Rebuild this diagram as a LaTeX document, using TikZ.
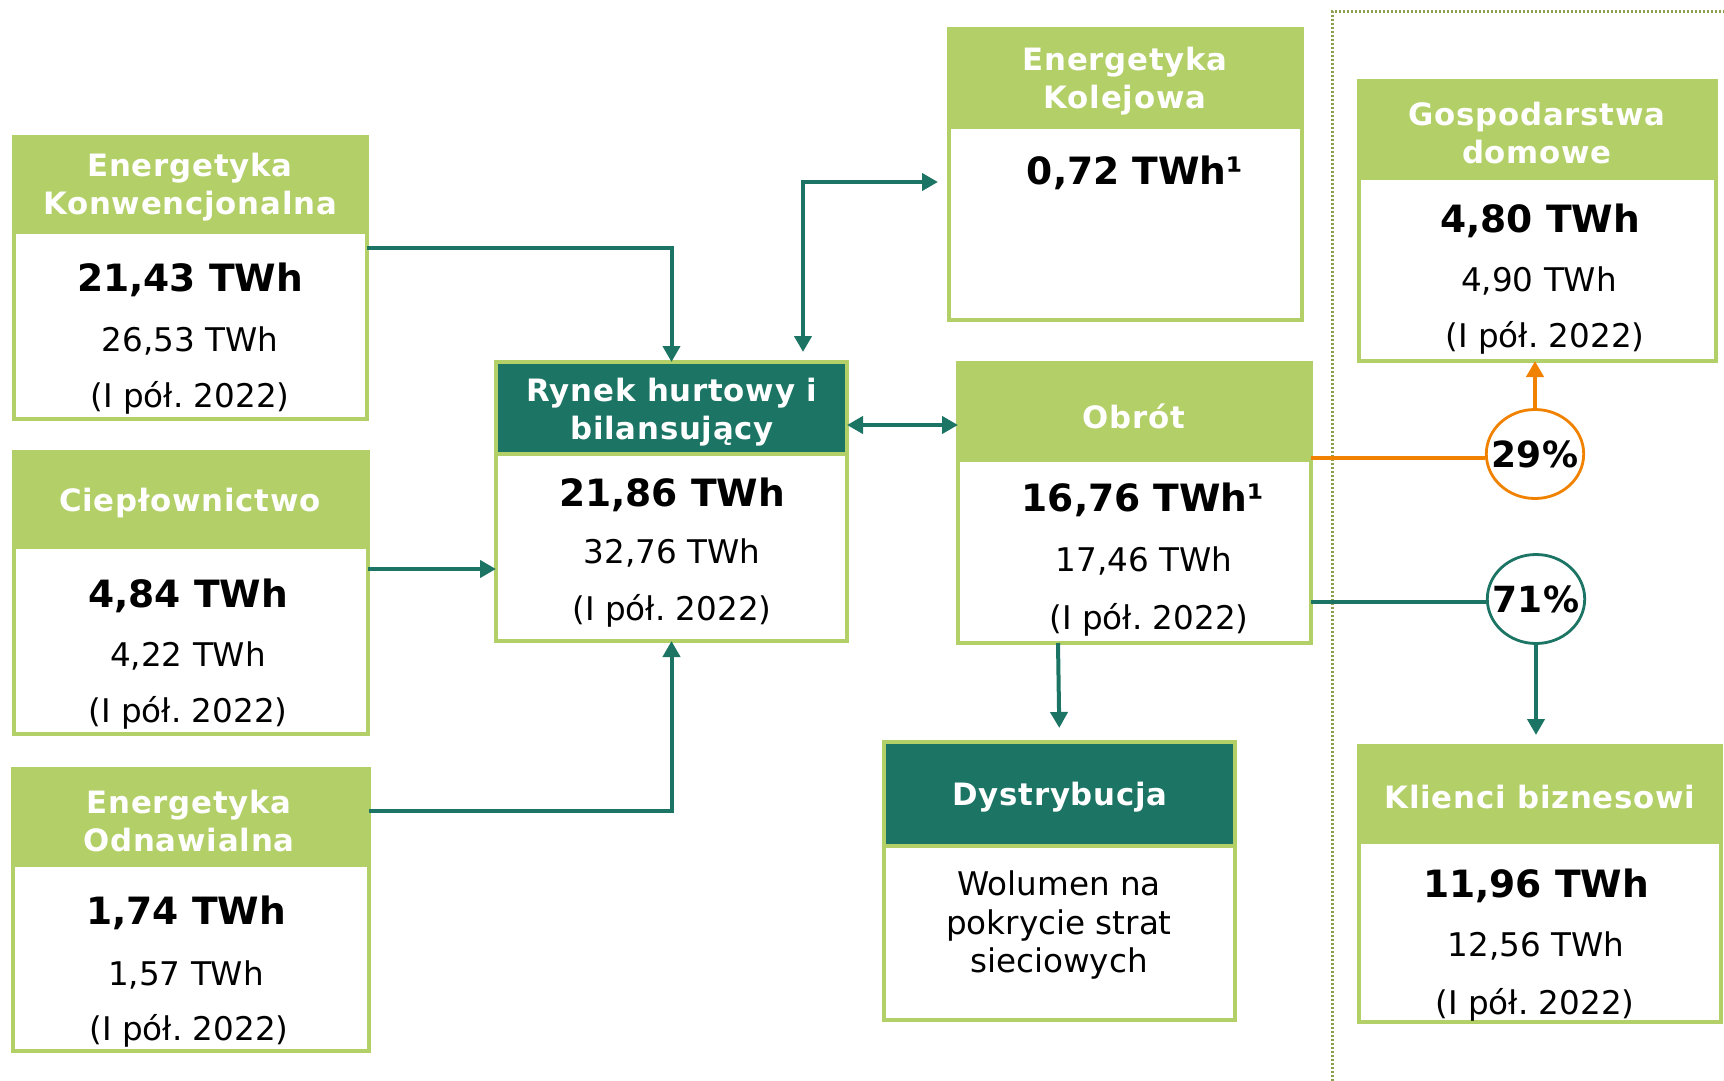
\documentclass[tikz,border=0pt]{standalone}
\usepackage{fontspec}
\setmainfont{DejaVu Sans}
\newfontfamily\hdrfont[LetterSpace=2.5]{DejaVu Sans}
\usetikzlibrary{arrows.meta,fit,shapes.geometric}
\definecolor{lg}{RGB}{179,207,104}
\definecolor{tealc}{RGB}{28,117,100}
\definecolor{orangec}{RGB}{240,130,0}
\definecolor{dotc}{RGB}{140,160,80}
\frenchspacing
\begin{document}
\frenchspacing
\begin{tikzpicture}[x=0.5pt,y=-0.5pt,
  body/.style={draw=lg, fill=white, line width=2pt, inner sep=0pt, outer sep=0pt},
  head/.style={body, fill=lg},
  headd/.style={body, fill=tealc},
  hdr/.style={font=\hdrfont\bfseries\fontsize{15.4}{19}\selectfont, text=white, align=center, inner sep=0pt, yshift=-1.5pt},
  val/.style={font=\bfseries\fontsize{18.8}{22}\selectfont, inner sep=0pt, yshift=-1.5pt},
  sub/.style={font=\fontsize{16.3}{19.3}\selectfont, align=center, inner sep=0pt, yshift=-1.5pt},
  conn/.style={draw=tealc, line width=2pt, -{Triangle[width=8.5pt,length=8pt]}},
  conn2/.style={draw=tealc, line width=2pt, {Triangle[width=8.5pt,length=8pt]}-{Triangle[width=8.5pt,length=8pt]}},
  oline/.style={draw=orangec, line width=2pt},
  oarr/.style={draw=orangec, line width=2pt, -{Triangle[width=8.5pt,length=8pt]}},
  tline/.style={draw=tealc, line width=2pt},
  pct/.style={ellipse, fill=white, line width=1.4pt, minimum width=48.7pt, minimum height=44.5pt, inner sep=0pt},
  pcttext/.style={font=\bfseries\fontsize{18}{20}\selectfont, inner sep=0pt},
  dotline/.style={draw=dotc, line width=1.5pt, dash pattern=on 1pt off 1pt}
]
\useasboundingbox (0,0) rectangle (1724,1081);

% dotted frame
\draw[dotline] (1332,1081) -- (1332,12) -- (1724,12);

% Energetyka Konwencjonalna
\node[body, fit={(14,137)(367,419)}] (ek) {};
\node[head, fit={(14,137)(367,232)}] (ekh) {};
\node[hdr] (ekt) at (190,184) {Energetyka\\Konwencjonalna};
\node[val] (ek1) at (190,277) {21,43 TWh};
\node[sub] (ek2) at (190,338) {26,53 TWh};
\node[sub] (ek3) at (190,395) {(I pół. 2022)};

% Cieplownictwo
\node[body, fit={(14,452)(368,734)}] (ciep) {};
\node[head, fit={(14,452)(368,547)}] (cieph) {};
\node[hdr] (ciept) at (190,500) {Ciepłownictwo};
\node[val] (ciep1) at (188,593) {4,84 TWh};
\node[sub] (ciep2) at (188,653) {4,22 TWh};
\node[sub] (ciep3) at (188,710) {(I pół. 2022)};

% Energetyka Odnawialna
\node[body, fit={(13,769)(369,1051)}] (odn) {};
\node[head, fit={(13,769)(369,865)}] (odnh) {};
\node[hdr] (odnt) at (189,818) {Energetyka\\Odnawialna};
\node[val] (odn1) at (186,910) {1,74 TWh};
\node[sub] (odn2) at (186,972) {1,57 TWh};
\node[sub] (odn3) at (189,1028) {(I pół. 2022)};

% Rynek hurtowy i bilansujacy
\node[body, fit={(496,362)(847,641)}] (rynek) {};
\node[headd, fit={(496,362)(847,454)}] (rynekh) {};
\node[hdr] (rynekt) at (672,409) {Rynek hurtowy i\\bilansujący};
\node[val] (rynek1) at (672,492) {21,86 TWh};
\node[sub] (rynek2) at (672,550) {32,76 TWh};
\node[sub] (rynek3) at (672,608) {(I pół. 2022)};

% Energetyka Kolejowa
\node[body, fit={(949,29)(1302,320)}] (kol) {};
\node[head, fit={(949,29)(1302,127)}] (kolh) {};
\node[hdr] (kolt) at (1125,78) {Energetyka\\Kolejowa};
\node[val] (kol1) at (1135,170) {0,72 TWh¹};

% Obrot
\node[body, fit={(958,363)(1311,643)}] (obr) {};
\node[head, fit={(958,363)(1311,460)}] (obrh) {};
\node[hdr] (obrt) at (1134,413) {Obrót};
\node[val] (obr1) at (1143,497) {16,76 TWh¹};
\node[sub] (obr2) at (1144,558) {17,46 TWh};
\node[sub] (obr3) at (1149,617) {(I pół. 2022)};

% Gospodarstwa domowe
\node[body, fit={(1359,81)(1716,361)}] (gosp) {};
\node[head, fit={(1359,81)(1716,178)}] (gosph) {};
\node[hdr] (gospt) at (1537,130) {Gospodarstwa\\domowe};
\node[val] (gosp1) at (1540,218) {4,80 TWh};
\node[sub] (gosp2) at (1539,278) {4,90 TWh};
\node[sub] (gosp3) at (1545,335) {(I pół. 2022)};

% Klienci biznesowi
\node[body, fit={(1359,746)(1721,1022)}] (kli) {};
\node[head, fit={(1359,746)(1721,842)}] (klih) {};
\node[hdr] (klit) at (1540,794) {Klienci biznesowi};
\node[val] (kli1) at (1536,883) {11,96 TWh};
\node[sub] (kli2) at (1536,943) {12,56 TWh};
\node[sub] (kli3) at (1535,1002) {(I pół. 2022)};

% Dystrybucja
\node[body, fit={(884,742)(1235,1020)}] (dys) {};
\node[headd, fit={(884,742)(1235,846)}] (dysh) {};
\node[hdr] (dyst) at (1060,794) {Dystrybucja};
\node[sub] (dys1) at (1059,922) {Wolumen na\\pokrycie strat\\sieciowych};

% percentage circles
\node[pct, draw=orangec] (c29) at (1535,454) {};
\node[pcttext] (c29t) at (c29) {29\%};
\node[pct, draw=tealc] (c71) at (1536,599) {};
\node[pcttext] (c71t) at (c71) {71\%};

% connectors
\coordinate (ekout) at ([yshift=15pt]ek.east);
\draw[conn] (ekout) -| (rynek.north);

\coordinate (ciepout) at ([yshift=12pt]ciep.east);
\draw[conn] (ciepout) -- (ciepout -| rynek.west);

\coordinate (odnout) at ([yshift=49.5pt]odn.east);
\draw[conn] (odnout) -| (rynek.south);

\coordinate (rkout) at ([xshift=65.75pt]rynek.north);
\coordinate (kolin) at ([yshift=-3.75pt]kol.west);
\draw[conn2, shorten <=5pt, shorten >=5.5pt] (rkout) |- (kolin);

\coordinate (roa) at ([yshift=38.25pt]rynek.east);
\draw[conn2] (roa) -- (roa -| obr.west);

\coordinate (obd) at ([xshift=-38.25pt]obr.south);
\draw[conn, shorten >=7pt] (obd) -- (dys.north);

\coordinate (oo) at ([yshift=22.5pt]obr.east);
\draw[oline] (oo) -- (oo -| c29.west);
\draw[oarr] (c29.north) -- (c29.north |- gosp.south);

\coordinate (ot) at ([yshift=-49.5pt]obr.east);
\draw[tline] (ot) -- (ot -| c71.west);
\draw[conn, shorten >=5.5pt] (c71.south) -- (c71.south |- kli.north);
\end{tikzpicture}
\end{document}
